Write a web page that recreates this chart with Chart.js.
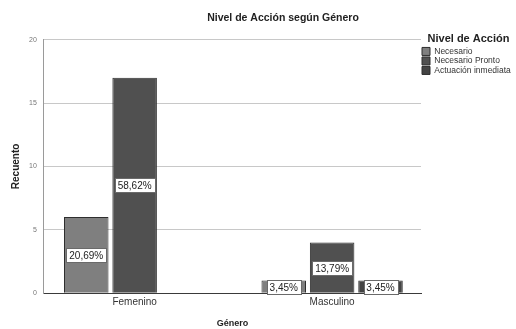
<!DOCTYPE html>
<html>
<head>
<meta charset="utf-8">
<script src="https://cdn.jsdelivr.net/npm/chart.js@4.4.1/dist/chart.umd.min.js"></script>
<style>
  html, body { margin: 0; padding: 0; background: #fff; }
  #wrap { width: 516px; height: 329px; position: relative; }
</style>
</head>
<body>
<div id="wrap"><canvas id="c" width="516" height="329"></canvas></div>
<script>
// Categories and counts per action level
const generos = ['Femenino', 'Masculino'];
const niveles = ['Necesario', 'Necesario Pronto', 'Actuación inmediata'];
const necesario = [6, 1];
const necesarioPronto = [17, 4];
const actuacionInmediata = [0, 1];
const yTicks = [0, 5, 10, 15, 20];

const series = [necesario, necesarioPronto, actuacionInmediata];
const colores = ['#7f7f7f', '#505050', '#434343'];
const total = series.flat().reduce((a, b) => a + b, 0);
const FONT = '"Liberation Sans", Arial, sans-serif';

// Percent labels in white boxes, centred on each bar
const etiquetas = {
  id: 'etiquetas',
  afterDatasetsDraw(chart) {
    const ctx = chart.ctx;
    ctx.save();
    ctx.font = '10px ' + FONT;
    ctx.textAlign = 'center';
    ctx.textBaseline = 'middle';
    chart.data.datasets.forEach((ds, i) => {
      const meta = chart.getDatasetMeta(i);
      meta.data.forEach((bar, j) => {
        const v = ds.data[j].y;
        if (!v) return;
        const txt = (v / total * 100).toFixed(2).replace('.', ',') + '%';
        const w = Math.round(ctx.measureText(txt).width + 6);
        const h = 14;
        const x0 = Math.round(bar.x - w / 2) + 0.5;
        const y0 = Math.round((bar.y + bar.base) / 2 - h / 2) + 0.5;
        ctx.fillStyle = '#ffffff';
        ctx.fillRect(x0, y0, w, h);
        ctx.strokeStyle = '#6a6a6a';
        ctx.lineWidth = 1;
        ctx.strokeRect(x0, y0, w, h);
        ctx.fillStyle = '#222';
        ctx.fillText(txt, bar.x, y0 + h / 2 + 0.5);
      });
    });
    ctx.restore();
  }
};

// Title sits a little right of the page centre
const tituloDesplazado = {
  id: 'tituloDesplazado',
  afterLayout(chart) {
    if (chart.titleBlock) chart.titleBlock.left = 50;
  }
};

new Chart(document.getElementById('c'), {
  type: 'bar',
  data: {
    datasets: niveles.map((n, i) => ({
      label: n,
      data: series[i].map((v, j) => ({ x: j, y: v })),
      backgroundColor: colores[i],
      borderColor: '#2e2e2e',
      borderWidth: 1,
      categoryPercentage: 0.735,
      barPercentage: 0.92
    }))
  },
  options: {
    responsive: false,
    animation: false,
    devicePixelRatio: 1,
    layout: { padding: { left: 10, right: 0, top: 10, bottom: 0 } },
    plugins: {
      title: {
        display: true,
        text: 'Nivel de Acción según Género',
        color: '#222',
        font: { family: FONT, size: 10.5, weight: 'bold' },
        padding: { top: 2, bottom: 15 }
      },
      legend: {
        position: 'right',
        align: 'start',
        maxWidth: 95,
        title: {
          display: true,
          text: 'Nivel de Acción',
          color: '#222',
          font: { family: FONT, size: 11, weight: 'bold' },
          padding: { top: 23, bottom: 0 }
        },
        labels: {
          boxWidth: 8,
          boxHeight: 8,
          padding: 1,
          color: '#333',
          font: { family: FONT, size: 8.5 }
        }
      },
      tooltip: { enabled: false }
    },
    scales: {
      x: {
        type: 'linear',
        offset: false,
        min: -0.46,
        max: 1.45,
        afterBuildTicks(axis) { axis.ticks = generos.map((g, i) => ({ value: i })); },
        grid: { display: false, drawTicks: false },
        border: { color: '#3a3a3a', width: 1 },
        ticks: {
          color: '#333',
          padding: 3,
          font: { family: FONT, size: 10 },
          callback: (v) => generos[v]
        },
        title: {
          display: true,
          text: 'Género',
          color: '#222',
          font: { family: FONT, size: 9, weight: 'bold' },
          padding: { top: 7, bottom: 0 }
        }
      },
      y: {
        min: 0,
        max: 20,
        afterBuildTicks(axis) { axis.ticks = yTicks.map(v => ({ value: v })); },
        grid: { color: '#c8c8c8', drawTicks: false },
        border: { color: '#9a9a9a' },
        ticks: {
          color: '#777',
          padding: 7,
          font: { family: FONT, size: 7 }
        },
        title: {
          display: true,
          text: 'Recuento',
          color: '#222',
          font: { family: FONT, size: 10, weight: 'bold' },
          padding: { top: 0, bottom: 0 }
        }
      }
    }
  },
  plugins: [etiquetas, tituloDesplazado]
});
</script>
</body>
</html>
